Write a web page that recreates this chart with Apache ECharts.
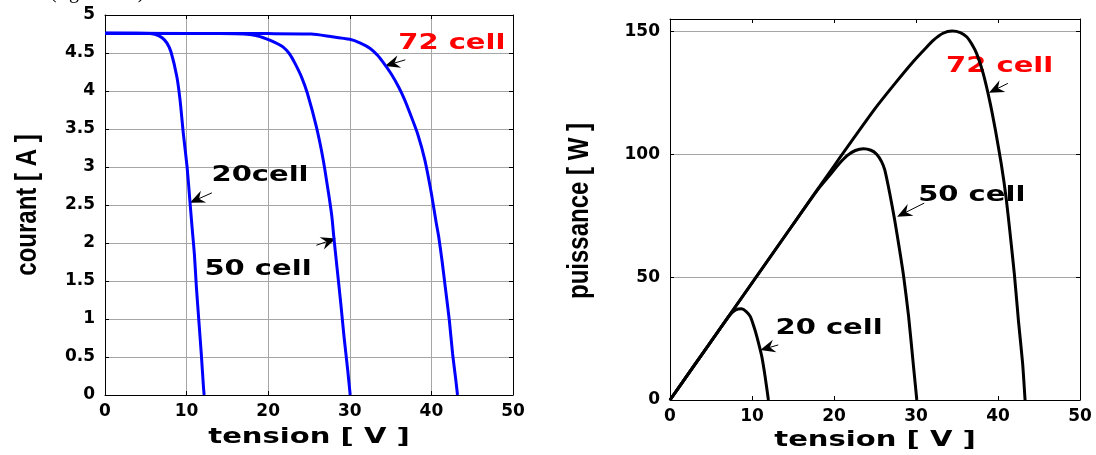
<!DOCTYPE html>
<html>
<head>
<meta charset="utf-8">
<script src="https://cdn.jsdelivr.net/npm/echarts@6/dist/echarts.min.js"></script>
<style>
  html, body { margin: 0; padding: 0; background: #fff; }
  #chart { width: 1096px; height: 455px; }
</style>
</head>
<body>
<div id="chart"></div>
<script>
// Courbes I(V) : [tension (V), courant (A)]
const iv20 = [[0, 4.76], [4, 4.76], [5.5, 4.755], [6.3, 4.74], [7.0, 4.70], [7.6, 4.63], [8.1, 4.51],
  [8.8, 4.19], [9.2, 3.88], [9.6, 3.44], [10.06, 3.00], [10.4, 2.56], [10.7, 2.17], [10.95, 1.86],
  [11.2, 1.42], [11.5, 0.98], [11.8, 0.54], [12.07, 0.10], [12.15, 0]];
const iv50 = [[0, 4.76], [14, 4.755], [17, 4.75], [18.5, 4.73], [19.7, 4.69], [20.8, 4.64], [21.8, 4.58],
  [22.6, 4.49], [23.3, 4.36], [24.1, 4.18], [24.8, 3.97], [25.9, 3.53], [26.75, 3.09], [27.4, 2.65],
  [27.8, 2.35], [28.04, 2.08], [28.47, 1.64], [28.9, 1.20], [29.3, 0.76], [29.75, 0.32], [30.05, 0]];
const iv72 = [[0, 4.76], [20, 4.755], [25.3, 4.75], [27.5, 4.72], [30, 4.68], [31.3, 4.63], [32.5, 4.56],
  [33.4, 4.47], [34.2, 4.36], [35.1, 4.22], [36.0, 4.05], [36.7, 3.89], [37.4, 3.70], [38.3, 3.44],
  [39.2, 3.09], [40.0, 2.65], [40.6, 2.26], [40.9, 2.08], [41.3, 1.77], [41.7, 1.42], [42.2, 0.98],
  [42.6, 0.54], [43.0, 0.19], [43.2, 0]];

// Courbes P(V) : [tension (V), puissance (W)]
const pv20 = [[0, 0], [2, 9.5], [4, 19], [6, 28.5], [7.3, 34.6], [8.0, 36.6], [8.7, 37.1], [9.3, 36.0],
  [9.8, 33.9], [10.2, 30.2], [10.6, 25.7], [11.2, 17.6], [11.6, 9.5], [12.0, 0]];
const pv50 = [[0, 0], [5, 23.8], [10, 47.6], [15, 71.4], [18, 85.5], [19.5, 91.5], [20.6, 96], [21.6, 99.4],
  [22.6, 101.5], [23.6, 102.2], [24.5, 101.6], [25.2, 100], [25.8, 97], [26.2, 93.5], [26.8, 84],
  [27.4, 73.2], [28.0, 61], [28.5, 50.1], [29.1, 33.9], [29.7, 13.5], [30.1, 0]];
const pv72 = [[0, 0], [5, 23.8], [10, 47.6], [15, 71.4], [20, 95.2], [25, 118.5], [27.5, 129], [29.7, 137.8],
  [31.0, 142.5], [32.1, 146.3], [33.3, 149.2], [34.4, 150.1], [35.4, 149.5], [36.2, 147.7], [36.8, 144.8],
  [37.4, 140.9], [38.2, 132.8], [39.0, 121.5], [39.7, 109.5], [40.4, 96], [41.0, 82], [41.5, 67],
  [42.0, 51], [42.5, 32], [43.0, 15], [43.3, 0]];

// Axis ranges [min, max, interval]
const tensionRange = [0, 50, 10];
const courantRange = [0, 5, 0.5];
const puissanceRange = [0, 155, 50];

// Curve annotations: label centre, arrow tail, arrow tip (data coordinates)
const notesIV = [
  { text: '72 cell', color: '#ff0000', at: [42.5, 4.62], tail: [36.8, 4.41], tip: [34.3, 4.33] },
  { text: '20cell', color: '#000000', at: [19.0, 2.89], tail: [13.1, 2.66], tip: [10.4, 2.53] },
  { text: '50 cell', color: '#000000', at: [18.75, 1.645], tail: [25.9, 1.97], tip: [28.3, 2.06] }
];
const notesPV = [
  { text: '72 cell', color: '#ff0000', at: [40.2, 135.5], tail: [41.2, 128.8], tip: [38.9, 125] },
  { text: '50 cell', color: '#000000', at: [36.8, 83], tail: [31.0, 80.1], tip: [27.7, 74.6] },
  { text: '20 cell', color: '#000000', at: [19.4, 29.1], tail: [13.2, 22.4], tip: [11.0, 20.3] }
];

const tickFont = { color: '#000', fontFamily: 'DejaVu Sans', fontWeight: 'bold', fontSize: 17 };
const blackLine = { color: '#000', width: 1 };
const gridLine = { color: '#a6a6a6', width: 1 };

function valueAxis(gridIndex, range, position, opts) {
  const main = position === 'bottom' || position === 'left';
  return {
    gridIndex, type: 'value', position,
    min: range[0], max: range[1], interval: range[2],
    axisLine: { show: true, onZero: false, lineStyle: blackLine },
    axisTick: { show: true, inside: true, length: 4, lineStyle: blackLine },
    axisLabel: main ? Object.assign({ show: true, showMaxLabel: range[1] % range[2] === 0 }, tickFont, opts.label || {}) : { show: false },
    splitLine: { show: main && !!opts.split, lineStyle: gridLine }
  };
}

const chart = echarts.init(document.getElementById('chart'), null, { renderer: 'canvas' });

function curve(data, xi, yi, color) {
  return {
    type: 'line', data, xAxisIndex: xi, yAxisIndex: yi,
    showSymbol: false, smooth: 0.2,
    lineStyle: { color, width: 3 }, silent: true
  };
}

chart.setOption({
  animation: false,
  backgroundColor: '#fff',
  grid: [
    { left: 105, top: 15, width: 408, height: 380 },
    { left: 670, top: 19, width: 410, height: 381 }
  ],
  xAxis: [
    valueAxis(0, tensionRange, 'bottom', { split: true, label: { margin: 8 } }),
    valueAxis(0, tensionRange, 'top', {}),
    valueAxis(1, tensionRange, 'bottom', { split: false, label: { margin: 8 } }),
    valueAxis(1, tensionRange, 'top', {})
  ],
  yAxis: [
    valueAxis(0, courantRange, 'left', { split: true, label: { margin: 10 } }),
    valueAxis(0, courantRange, 'right', {}),
    valueAxis(1, puissanceRange, 'left', { split: true, label: { margin: 10 } }),
    valueAxis(1, puissanceRange, 'right', {})
  ],
  series: [
    curve(iv20, 0, 0, '#0000ff'),
    curve(iv50, 0, 0, '#0000ff'),
    curve(iv72, 0, 0, '#0000ff'),
    curve(pv20, 2, 2, '#000000'),
    curve(pv50, 2, 2, '#000000'),
    curve(pv72, 2, 2, '#000000')
  ]
});

// Annotation arrows with a notched head, drawn in pixel space from data coordinates
function arrowShapes(note, seriesIndex) {
  const a = chart.convertToPixel({ seriesIndex }, note.tail);
  const b = chart.convertToPixel({ seriesIndex }, note.tip);
  const dx = b[0] - a[0], dy = b[1] - a[1];
  const len = Math.hypot(dx, dy), ux = dx / len, uy = dy / len;
  const nx = -uy, ny = ux;
  const headLen = 15, halfW = 6.5, notch = 5;
  const bx = b[0] - ux * headLen, by = b[1] - uy * headLen;
  const mx = b[0] - ux * (headLen - notch), my = b[1] - uy * (headLen - notch);
  return [
    { type: 'line', shape: { x1: a[0], y1: a[1], x2: mx, y2: my }, style: { stroke: '#000', lineWidth: 1 }, silent: true },
    { type: 'polygon', shape: { points: [[b[0], b[1]], [bx + nx * halfW, by + ny * halfW], [mx, my], [bx - nx * halfW, by - ny * halfW]] },
      style: { fill: '#000' }, silent: true }
  ];
}

function noteLabel(note, seriesIndex) {
  const p = chart.convertToPixel({ seriesIndex }, note.at);
  return {
    type: 'text', x: p[0], y: p[1], scaleX: 1.38, silent: true,
    style: { text: note.text, fill: note.color, font: 'bold 21px "DejaVu Sans"', align: 'center', verticalAlign: 'middle' }
  };
}

function axisTitle(text, x, y) {
  return {
    type: 'text', x, y, scaleX: 1.32, silent: true,
    style: { text, fill: '#000', font: 'bold 22px "DejaVu Sans"', align: 'center', verticalAlign: 'middle' }
  };
}

function sideTitle(text, x, y) {
  return {
    type: 'text', x, y, rotation: Math.PI / 2, scaleY: 1.2, silent: true,
    style: { text, fill: '#000', font: 'bold 24px "Liberation Sans"', align: 'center', verticalAlign: 'middle' }
  };
}

const graphics = [];
notesIV.forEach(n => { graphics.push(...arrowShapes(n, 0), noteLabel(n, 0)); });
notesPV.forEach(n => { graphics.push(...arrowShapes(n, 3), noteLabel(n, 3)); });

const leftMid = chart.convertToPixel({ seriesIndex: 0 }, [25, 2.5]);
const rightMid = chart.convertToPixel({ seriesIndex: 3 }, [25, 77.5]);
graphics.push(axisTitle('tension [ V ]', leftMid[0], 437));
graphics.push(axisTitle('tension [ V ]', rightMid[0], 440));
graphics.push(sideTitle('courant [ A ]', 28, 205));
graphics.push(sideTitle('puissance [ W ]', 580, 211));

// Caption line of the page above, cut by the top edge
graphics.push({
  type: 'text', x: 50, y: 3, silent: true,
  style: { text: '(figure II.6)', fill: '#000', font: '20px "Liberation Serif"', align: 'left', verticalAlign: 'bottom' }
});

chart.setOption({ graphic: graphics });
</script>
</body>
</html>
